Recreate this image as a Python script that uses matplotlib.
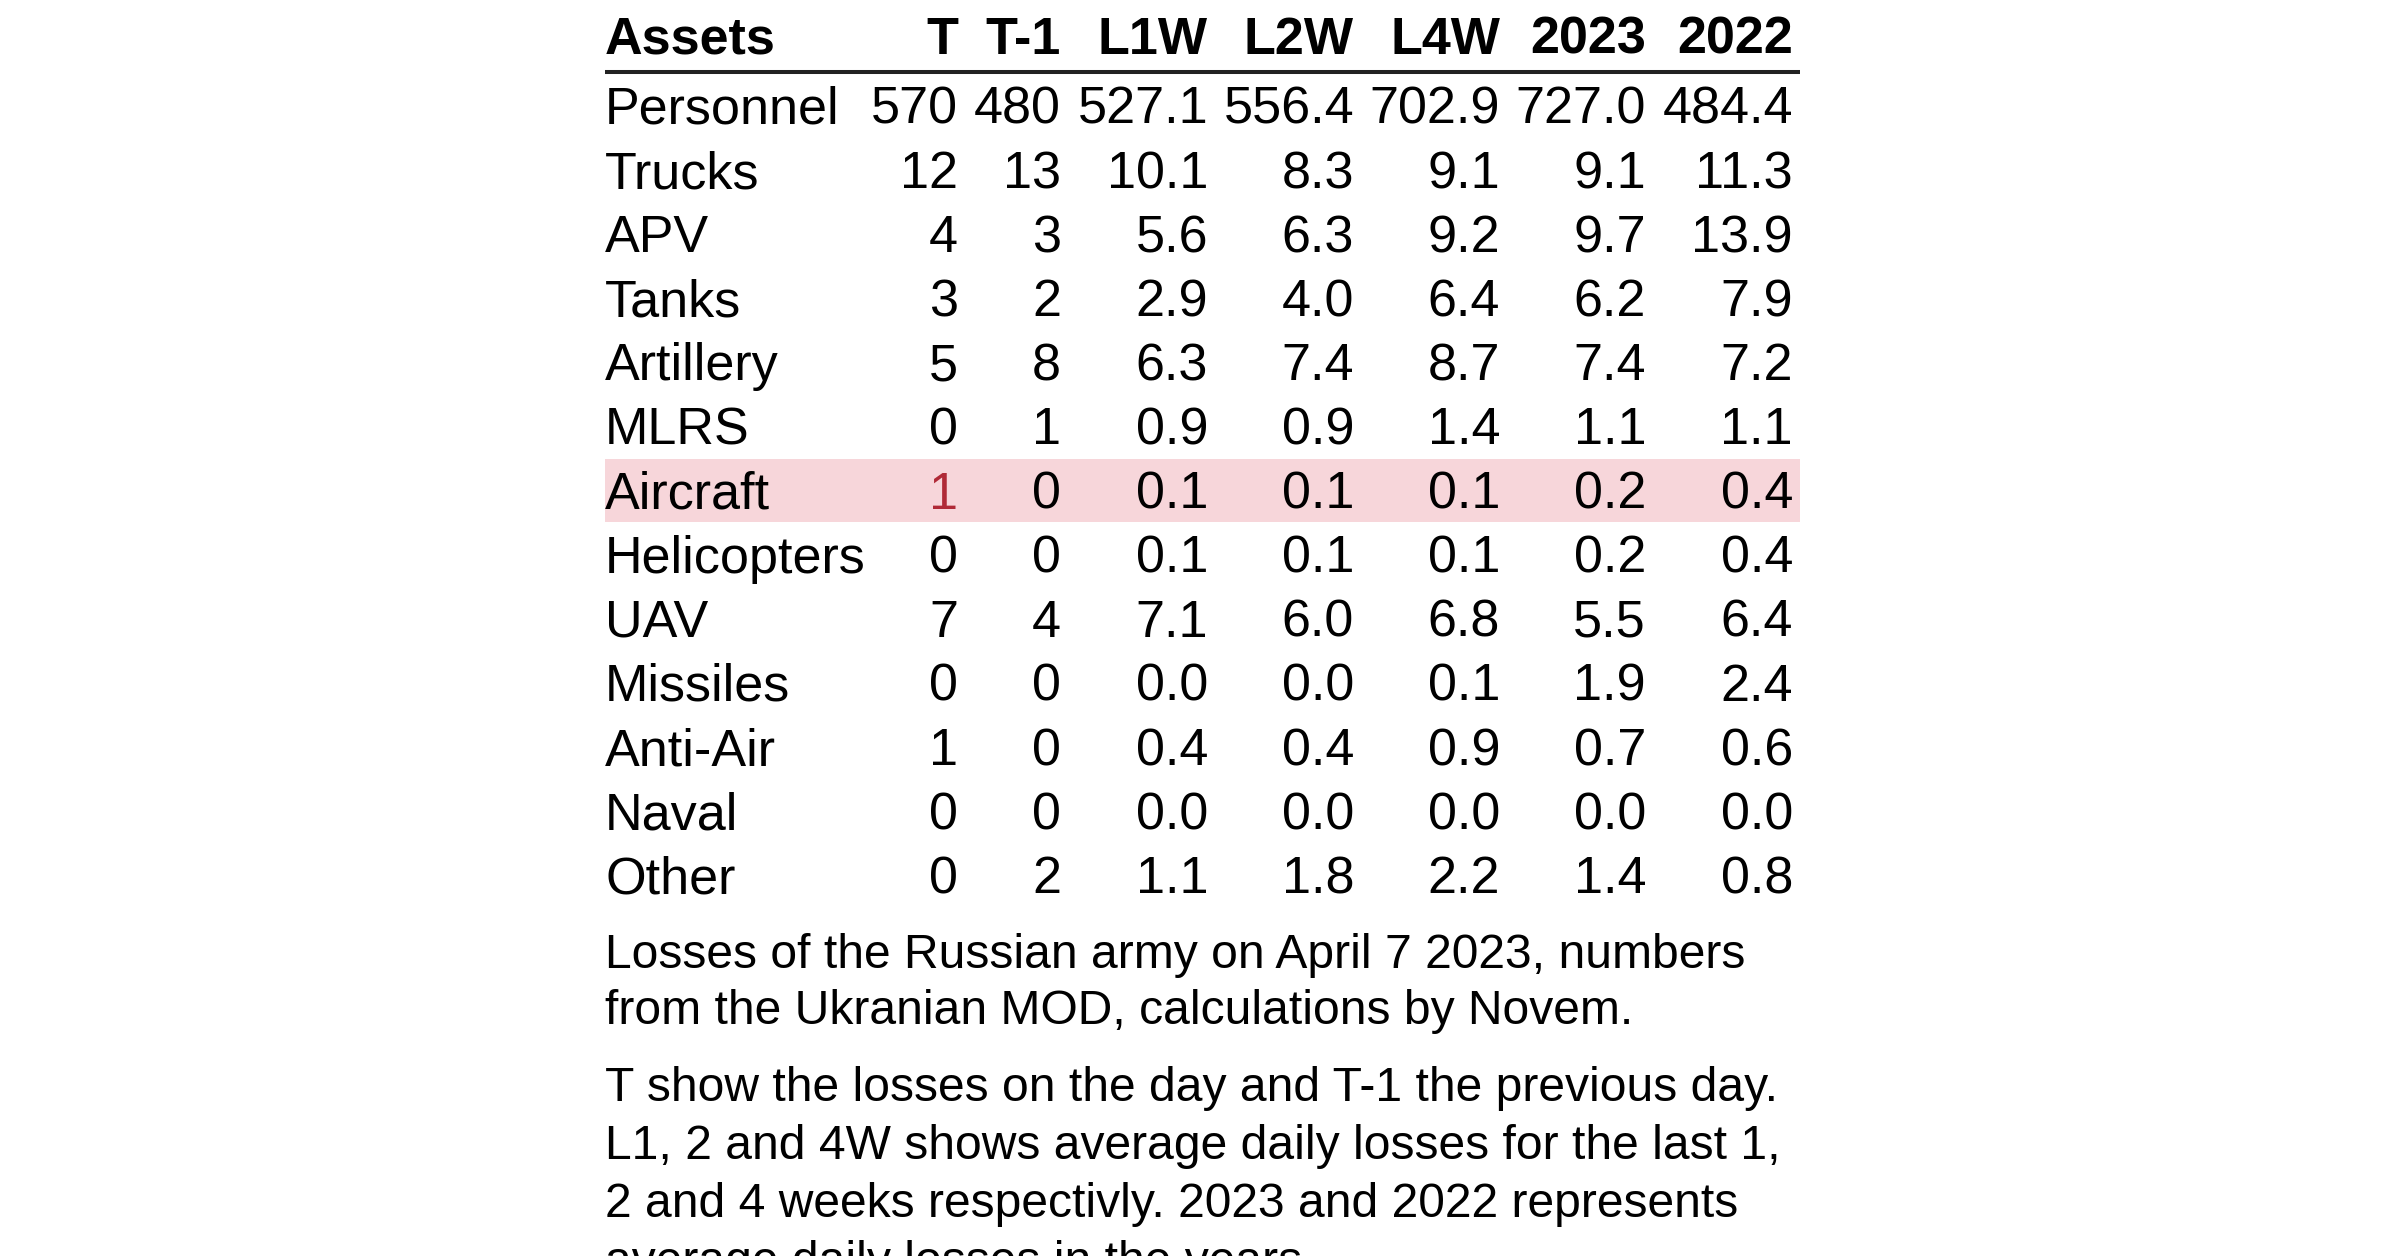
import matplotlib
matplotlib.use("Agg")
import matplotlib.pyplot as plt

plt.rcParams['font.family'] = ['Liberation Sans', 'DejaVu Sans']

# table data
columns = ['T', 'T-1', 'L1W', 'L2W', 'L4W', '2023', '2022']
assets = ['Personnel', 'Trucks', 'APV', 'Tanks', 'Artillery', 'MLRS', 'Aircraft',
          'Helicopters', 'UAV', 'Missiles', 'Anti-Air', 'Naval', 'Other']
t_day = [570, 12, 4, 3, 5, 0, 1, 0, 7, 0, 1, 0, 0]
t_prev = [480, 13, 3, 2, 8, 1, 0, 0, 4, 0, 0, 0, 2]
l1w = [527.1, 10.1, 5.6, 2.9, 6.3, 0.9, 0.1, 0.1, 7.1, 0.0, 0.4, 0.0, 1.1]
l2w = [556.4, 8.3, 6.3, 4.0, 7.4, 0.9, 0.1, 0.1, 6.0, 0.0, 0.4, 0.0, 1.8]
l4w = [702.9, 9.1, 9.2, 6.4, 8.7, 1.4, 0.1, 0.1, 6.8, 0.1, 0.9, 0.0, 2.2]
y2023 = [727.0, 9.1, 9.7, 6.2, 7.4, 1.1, 0.2, 0.2, 5.5, 1.9, 0.7, 0.0, 1.4]
y2022 = [484.4, 11.3, 13.9, 7.9, 7.2, 1.1, 0.4, 0.4, 6.4, 2.4, 0.6, 0.0, 0.8]
highlight_row = 'Aircraft'

caption_1 = ["Losses of the Russian army on April 7 2023, numbers",
             "from the Ukranian MOD, calculations by Novem."]
caption_2 = ["T show the losses on the day and T-1 the previous day.",
             "L1, 2 and 4W shows average daily losses for the last 1,",
             "2 and 4 weeks respectivly. 2023 and 2022 represents",
             "average daily losses in the years."]

W, H = 2400, 1256
fig = plt.figure(figsize=(W / 100, H / 100), dpi=100)
ax = fig.add_axes([0, 0, 1, 1])
ax.set_xlim(0, W)
ax.set_ylim(H, 0)
ax.axis('off')

fs = 37.5
left = 605
right = 1800
col_right = [958, 1061, 1208, 1354, 1500, 1646, 1793]
header_base = 54
row0 = 124
pitch = 64.1

# header
ax.text(left, header_base, 'Assets', fontsize=fs, fontweight='bold', va='baseline', ha='left')
for c, x in zip(columns, col_right):
    ax.text(x, header_base, c, fontsize=fs, fontweight='bold', va='baseline', ha='right')
ax.plot([left, right], [72, 72], color='#222222', lw=2.9, solid_capstyle='butt')

cols = [t_day, t_prev, l1w, l2w, l4w, y2023, y2022]
for i, name in enumerate(assets):
    y = row0 + i * pitch
    if name == highlight_row:
        ax.fill_between([left, right], y - 50, y + 13, color='#f7d6da', lw=0, zorder=0)
    ax.text(left, y, name, fontsize=fs, va='baseline', ha='left')
    for j, (vals, x) in enumerate(zip(cols, col_right)):
        txt = f'{vals[i]:d}' if j < 2 else f'{vals[i]:.1f}'
        color = '#b02a37' if (name == highlight_row and j == 0) else 'black'
        ax.text(x, y, txt, fontsize=fs, va='baseline', ha='right', color=color)

# notes below the table
cap_fs = 34.6
for k, line in enumerate(caption_1):
    ax.text(left, 968 + k * 56, line, fontsize=cap_fs, va='baseline', ha='left')
for k, line in enumerate(caption_2):
    ax.text(left, 1101 + k * 58, line, fontsize=cap_fs, va='baseline', ha='left')

fig.savefig('out.png', dpi=100)
